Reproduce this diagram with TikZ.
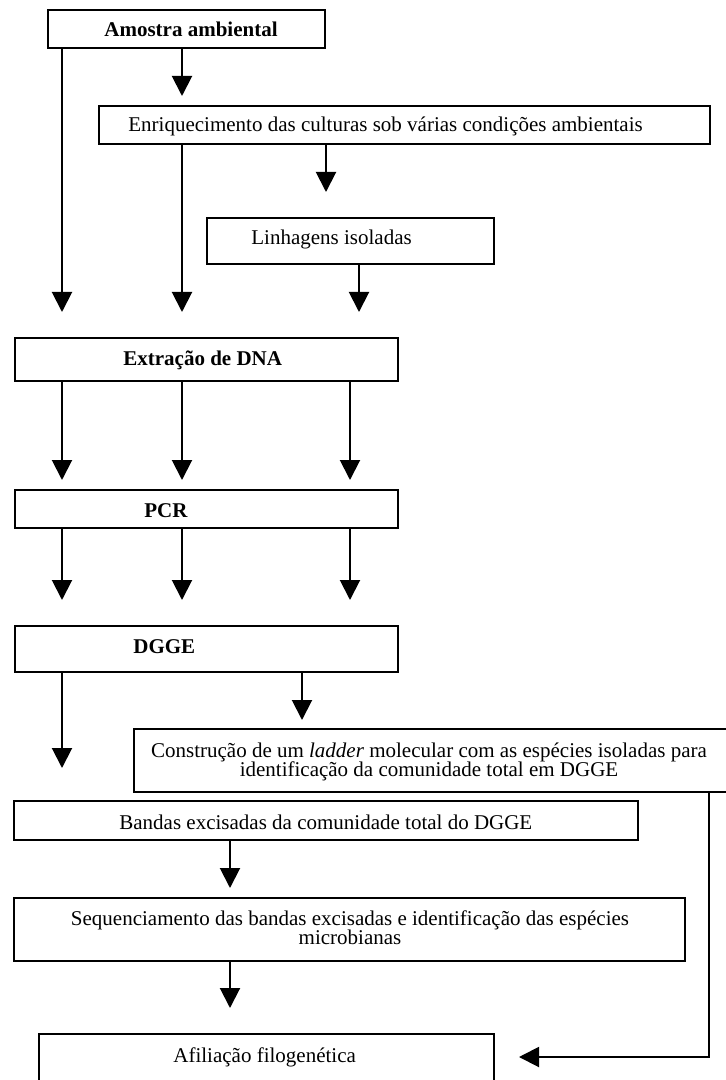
\documentclass[tikz,border=0pt]{standalone}
\usepackage{fontspec}
\setmainfont{Liberation Serif}
\usetikzlibrary{arrows.meta,fit}
\tikzset{
  box/.style={draw=black, line width=1.35pt, inner sep=0pt, fill=none},
  txt/.style={inner sep=0pt, anchor=base west, font=\fontsize{10.5}{9}\selectfont},
  ctxt/.style={inner sep=0pt, anchor=base, align=center, font={\fontsize{10.5}{9.5}\selectfont\lineskiplimit=-20pt\lineskip=0pt}},
  arr/.style={line width=1pt, -{Triangle[width=10pt,length=10pt]}}
}
\begin{document}
\begin{tikzpicture}[x=0.5pt,y=-0.5pt]
\useasboundingbox (0,0) rectangle (726,1080);
\clip (0,0) rectangle (726,1080);
% boxes
\node[box, fit={(48,10) (325,48)}] (amostra) {};
\node[box, fit={(99,106) (710,144)}] (enriq) {};
\node[box, fit={(207,218) (494,264)}] (linh) {};
\node[box, fit={(15,338) (398,381)}] (extr) {};
\node[box, fit={(15,490) (398,528)}] (pcr) {};
\node[box, fit={(15,626) (398,672)}] (dgge) {};
\node[box, fit={(134,729) (740,792)}] (ladder) {};
\node[box, fit={(14,801) (638,840)}] (bandas) {};
\node[box, fit={(14,898) (685,961)}] (seq) {};
\node[box, fit={(39,1034) (494,1095)}] (afil) {};
% texts
\node[txt] (tamostra) at (104,37) {\bfseries Amostra ambiental};
\node[txt] (tenriq) at (128,132) {Enriquecimento das culturas sob várias condições ambientais};
\node[txt] (tlinh) at (251,245) {Linhagens isoladas};
\node[txt] (textr) at (123,365) {\bfseries Extração de DNA};
\node[txt] (tpcr) at (144,517) {\bfseries PCR};
\node[txt] (tdgge) at (133,653) {\bfseries DGGE};
\node[ctxt] (tladder) at (429,776) {Construção de um \textit{ladder} molecular com as espécies isoladas para\\identificação da comunidade total em DGGE};
\node[txt] (tbandas) at (119,829) {Bandas excisadas da comunidade total do DGGE};
\node[ctxt] (tseq) at (350,944) {Sequenciamento das bandas excisadas e identificação das espécies\\microbianas};
\node[txt] (tafil) at (173,1062) {Afiliação filogenética};
% arrow tips
\coordinate (a1) at (62,312);
\coordinate (a2) at (182,96);
\coordinate (e1) at (182,312);
\coordinate (e2) at (326,192);
\coordinate (l1) at (359,312);
\coordinate (x1) at (62,480);
\coordinate (x2) at (182,480);
\coordinate (x3) at (350,480);
\coordinate (p1) at (62,600);
\coordinate (p2) at (182,600);
\coordinate (p3) at (350,600);
\coordinate (d1) at (62,768);
\coordinate (d2) at (302,720);
\coordinate (b1) at (230,888);
\coordinate (s1) at (230,1008);
\coordinate (corner) at (709,1057);
\coordinate (f1) at (519,1057);
% connectors
\draw[arr] (amostra.south -| a1) -- (a1);
\draw[arr] (amostra.south -| a2) -- (a2);
\draw[arr] (enriq.south -| e1) -- (e1);
\draw[arr] (enriq.south -| e2) -- (e2);
\draw[arr] (linh.south -| l1) -- (l1);
\draw[arr] (extr.south -| x1) -- (x1);
\draw[arr] (extr.south -| x2) -- (x2);
\draw[arr] (extr.south -| x3) -- (x3);
\draw[arr] (pcr.south -| p1) -- (p1);
\draw[arr] (pcr.south -| p2) -- (p2);
\draw[arr] (pcr.south -| p3) -- (p3);
\draw[arr] (dgge.south -| d1) -- (d1);
\draw[arr] (dgge.south -| d2) -- (d2);
\draw[arr] (bandas.south -| b1) -- (b1);
\draw[arr] (seq.south -| s1) -- (s1);
\draw[arr] (ladder.south -| corner) -- (corner) -- (f1);
\end{tikzpicture}
\end{document}
